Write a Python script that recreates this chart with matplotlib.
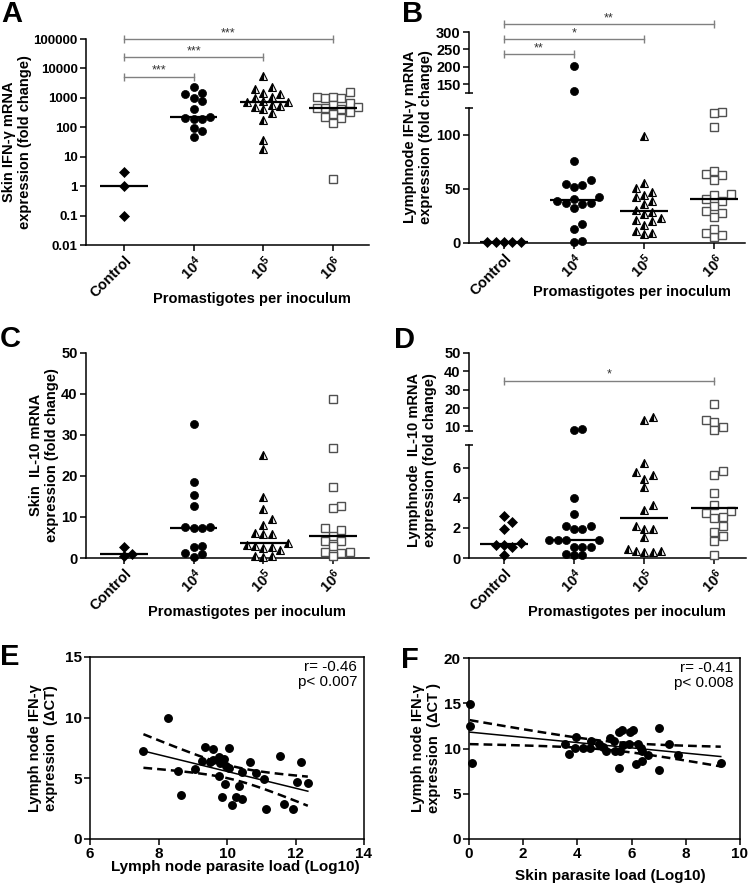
import numpy as np
import matplotlib
matplotlib.use('Agg')
import matplotlib.pyplot as plt

plt.rcParams['font.family'] = ['Liberation Sans', 'DejaVu Sans']
plt.rcParams['font.weight'] = 'bold'
plt.rcParams['mathtext.fontset'] = 'custom'
plt.rcParams['mathtext.rm'] = 'Liberation Sans:bold'
plt.rcParams['mathtext.bf'] = 'Liberation Sans:bold'
plt.rcParams['mathtext.it'] = 'Liberation Sans:bold'
plt.rcParams['axes.linewidth'] = 1.1

# ---------------- data ----------------
categories = ['Control', r'$\mathbf{10^{4}}$', r'$\mathbf{10^{5}}$', r'$\mathbf{10^{6}}$']

# A: Skin IFN-g (log scale)
a_control = [3.0, 1.0, 0.1]
a_1e4 = [2290, 1350, 1430, 965, 780, 430, 230, 195, 187, 205, 93, 75, 48]
a_1e5 = [5500, 1950, 2400, 1350, 1500, 1090, 965, 710, 540, 790, 740, 500, 575, 300, 410, 178, 37, 18]
a_1e6 = [1540, 1090, 965, 1090, 965, 650, 575, 480, 410, 460, 460, 340, 275, 230, 205, 138, 1.75]
a_sig = [(0, 3, 100000, '***'), (0, 2, 24500, '***'), (0, 1, 5150, '***')]

# B: Lymphnode IFN-g (broken axis)
b_control = [1.2, 1.1, 1.3, 1.0, 1.2]
b_1e4 = [202, 130, 76, 55, 58, 54, 51.5, 43, 41, 39, 37, 37, 36, 32, 17.6, 13, 1.2, 2]
b_1e5 = [99, 56, 51, 44, 43, 47, 39, 36, 30.5, 29, 27, 23, 20.6, 21, 17, 11, 8, 9.5]
b_1e6 = [121, 120, 107, 64, 67, 63, 58, 45, 44, 41, 39, 34.5, 30, 27.5, 24, 9, 5.3, 7.4, 12.7]
b_sig = [(0, 3, 322, '**'), (0, 2, 279, '*'), (0, 1, 236, '**')]

# C: Skin IL-10
c_control = [2.7, 0.4, 1.0]
c_1e4 = [32.7, 18.5, 15.3, 12.6, 7.6, 7.2, 7.2, 7.6, 2.9, 2.8, 1.1, 0.9, 0.3]
c_1e5 = [25, 14.8, 11.9, 9.4, 8, 6, 5.8, 5.9, 3.2, 2.8, 2.5, 2.9, 3.7, 2, 0.5, 0.3, 0.5]
c_1e6 = [38.7, 26.8, 17.2, 12.7, 12.1, 7.2, 6.8, 5.4, 4.1, 4.1, 2.9, 1.3, 1.5, 1.5, 0.6]

# D: Lymphnode IL-10 (broken axis)
d_control = [2.8, 2.4, 1.94, 0.83, 0.83, 1.0, 0.7, 0.22]
d_1e4 = [8.6, 8.2, 4.0, 2.9, 2.1, 1.9, 1.9, 2.1, 1.2, 1.2, 1.17, 1.2, 0.73, 0.73, 0.73, 0.28, 0.22, 0.22]
d_1e5 = [15.1, 13.7, 6.3, 5.5, 5.27, 5.7, 4.68, 3.5, 3.2, 1.92, 2.1, 1.92, 1.39, 0.6, 0.44, 0.37, 0.37, 0.48]
d_1e6 = [22.4, 13.3, 12.4, 9.7, 8.2, 5.8, 5.5, 4.3, 3.5, 3.0, 3.1, 2.7, 2.65, 2.1, 1.7, 1.43, 1.1, 0.22]
d_sig = [(0, 3, 34.9, '*')]

# E: LN parasite load vs LN IFN-g dCT
e_x = [8.27, 7.56, 9.36, 9.58, 10.07, 9.77, 9.9, 9.27, 9.5, 9.6, 9.8, 9.97, 10.07, 10.66, 11.56, 12.15,
       8.57, 9.07, 9.77, 10.45, 10.85, 11.07, 12.04, 12.36, 9.95, 10.34, 8.66, 9.86, 10.25, 10.45,
       10.16, 11.15, 11.65, 11.94]
e_y = [9.95, 7.28, 7.62, 7.43, 7.48, 6.79, 6.58, 6.44, 6.35, 6.52, 6.25, 6.02, 5.88, 6.33, 6.85, 6.35,
       5.61, 5.75, 5.22, 5.55, 5.47, 4.95, 4.73, 4.65, 4.51, 4.37, 3.6, 3.49, 3.44, 3.32,
       2.78, 2.5, 2.86, 2.5]
e_stats = 'r= -0.46\np< 0.007'

# F: skin parasite load vs LN IFN-g dCT
f_x = [0.03, 0.03, 0.11, 3.56, 3.7, 3.93, 3.9, 4.21, 4.5, 4.46, 4.8, 4.95, 5.04, 5.2, 5.35, 5.38, 5.54,
       5.63, 5.59, 5.69, 5.9, 5.94, 6.06, 6.22, 6.34, 6.4, 6.18, 6.39, 6.61, 5.53, 7.02, 7.02, 7.39, 7.7, 9.29]
f_y = [14.9, 12.44, 8.4, 10.5, 9.4, 11.23, 10.1, 10.1, 10.86, 10.05, 10.5, 10.16, 9.68, 11.16, 10.78, 9.75,
       11.82, 12.0, 9.68, 10.34, 10.5, 11.78, 12.08, 10.5, 10.05, 9.68, 8.32, 8.65, 9.31, 7.9, 12.26,
       7.66, 10.53, 9.24, 8.4]
f_stats = 'r= -0.41\np< 0.008'

# ---------------- layout ----------------
W, H = 750, 884
fig = plt.figure(figsize=(W / 100, H / 100), dpi=100)

def add_ax(x0, x1, y0, y1):
    return fig.add_axes([x0 / W, 1 - y1 / H, (x1 - x0) / W, (y1 - y0) / H])

TICK_FS = 10.5
LAB_FS = 10.5
SIG_COLOR = '#808080'

styles = [
    dict(marker='D', ms=4.6, mfc='black', mec='black', mew=0.5),
    dict(marker='o', ms=5.8, mfc='black', mec='black', mew=0.5),
    dict(marker='^', ms=6.2, mfc='black', mec='black', mew=0.8, fillstyle='left', markerfacecoloralt='#f0f0f0'),
    dict(marker='s', ms=5.6, mfc='white', mec='#505050', mew=1.0),
]

def style_axis(ax, box=False):
    if not box:
        ax.spines['top'].set_visible(False)
        ax.spines['right'].set_visible(False)
    ax.tick_params(direction='out', length=4, width=1.1, labelsize=TICK_FS, pad=2)
    for lab in ax.get_yticklabels() + ax.get_xticklabels():
        lab.set_fontweight('bold')

def swarm_offsets(ypix, d=8.3):
    order = np.argsort(ypix)
    placed = []
    off = np.zeros(len(ypix))
    for i in order:
        y = ypix[i]
        chosen = 0.0
        for k in [0, 1, -1, 2, -2, 3, -3, 4, -4, 5, -5, 6, -6, 7, -7]:
            ox = k * d
            if all((ox - px) ** 2 + (y - py) ** 2 >= (0.92 * d) ** 2 for px, py in placed):
                chosen = ox
                break
        placed.append((chosen, y))
        off[i] = chosen
    return off

def draw_groups(ax_lo, groups, ax_hi=None, brk=None):
    ppu = ax_lo.transData.transform((1, 0))[0] - ax_lo.transData.transform((0, 0))[0]
    for gi, vals in enumerate(groups):
        vals = np.asarray(vals, dtype=float)
        def which(v):
            return ax_hi if (ax_hi is not None and v > brk) else ax_lo
        ypix = np.array([which(v).transData.transform((0, v))[1] for v in vals])
        xs = gi + swarm_offsets(ypix) / ppu
        for xv, v in zip(xs, vals):
            which(v).plot([xv], [v], linestyle='none', clip_on=False, zorder=3, **styles[gi])
        med = np.median(vals)
        ax_lo.plot([gi - 0.34, gi + 0.34], [med, med], color='black', lw=1.6, zorder=4, solid_capstyle='butt')

def draw_sig(ax, sigs):
    for x0, x1, y, txt in sigs:
        ax.plot([x0, x1], [y, y], color=SIG_COLOR, lw=1.0, marker='|', ms=6, mew=1.0,
                clip_on=False, zorder=5)
        ax.annotate(txt, xy=((x0 + x1) / 2, y), xytext=(0, 0), textcoords='offset points',
                    ha='center', va='bottom', fontsize=9, color='#333333', fontweight='normal',
                    annotation_clip=False)

def cat_xaxis(ax, xlim):
    ax.set_xlim(*xlim)
    ax.set_xticks(range(4))
    ax.set_xticklabels(categories, rotation=45, ha='right', va='top', rotation_mode='anchor',
                       fontsize=11, fontweight='bold')

def break_mark(ax, x, y):
    ax.plot([x], [y], marker='_', ms=6, mew=1.1, color='black', clip_on=False, zorder=5)

# ---- A ----
axA = add_ax(86, 369, 39, 245)
axA.set_yscale('log')
axA.set_ylim(0.01, 100000)
axA.set_yticks([0.01, 0.1, 1, 10, 100, 1000, 10000, 100000])
axA.set_yticklabels(['0.01', '0.1', '1', '10', '100', '1000', '10000', '100000'])
axA.minorticks_off()
cat_xaxis(axA, (-0.545, 3.515))
style_axis(axA)
axA.tick_params(axis='y', labelsize=9.5)
draw_groups(axA, [a_control, a_1e4, a_1e5, a_1e6])
draw_sig(axA, a_sig)

# ---- B ----
axB = add_ax(469, 745, 108, 243)
axBu = add_ax(469, 745, 32, 93)
axB.set_ylim(0, 125)
axB.set_yticks([0, 50, 100])
axBu.set_ylim(125, 300)
axBu.set_yticks([150, 200, 250, 300])
cat_xaxis(axB, (-0.5, 3.44))
axBu.set_xlim(-0.5, 3.44)
axBu.set_xticks([])
axBu.spines['bottom'].set_visible(False)
style_axis(axB)
style_axis(axBu)
break_mark(axB, -0.5, 125)
break_mark(axBu, -0.5, 125)
draw_groups(axB, [b_control, b_1e4, b_1e5, b_1e6], axBu, 125)
draw_sig(axBu, b_sig)

# ---- C ----
axC = add_ax(86, 369, 353, 558)
axC.set_ylim(0, 50)
axC.set_yticks([0, 10, 20, 30, 40, 50])
cat_xaxis(axC, (-0.545, 3.515))
style_axis(axC)
draw_groups(axC, [c_control, c_1e4, c_1e5, c_1e6])

# ---- D ----
axD = add_ax(469, 746, 445, 558)
axDu = add_ax(469, 746, 353, 431)
axD.set_ylim(0, 7.5)
axD.set_yticks([0, 2, 4, 6])
axDu.set_ylim(7.5, 50)
axDu.set_yticks([10, 20, 30, 40, 50])
cat_xaxis(axD, (-0.5, 3.45))
axDu.set_xlim(-0.5, 3.45)
axDu.set_xticks([])
axDu.spines['bottom'].set_visible(False)
style_axis(axD)
style_axis(axDu)
break_mark(axD, -0.5, 7.5)
break_mark(axDu, -0.5, 7.5)
draw_groups(axD, [d_control, d_1e4, d_1e5, d_1e6], axDu, 7.5)
draw_sig(axDu, d_sig)

# ---- E / F ----
def fit_band(x, y, t=2.03):
    x = np.asarray(x, float); y = np.asarray(y, float)
    n = len(x)
    b, a = np.polyfit(x, y, 1)
    xx = np.linspace(x.min(), x.max(), 100)
    yy = a + b * xx
    res = y - (a + b * x)
    s = np.sqrt(np.sum(res ** 2) / (n - 2))
    sxx = np.sum((x - x.mean()) ** 2)
    se = s * np.sqrt(1 / n + (xx - x.mean()) ** 2 / sxx)
    return xx, yy, yy - t * se, yy + t * se

def scatter_panel(ax, x, y, stats):
    ax.plot(x, y, linestyle='none', marker='o', ms=5.4, color='black', clip_on=False, zorder=3)
    xx, yy, lo, hi = fit_band(x, y)
    ax.plot(xx, yy, color='black', lw=1.1, zorder=4)
    ax.plot(xx, lo, color='black', lw=1.8, ls=(0, (3.5, 2)), zorder=4)
    ax.plot(xx, hi, color='black', lw=1.8, ls=(0, (3.5, 2)), zorder=4)
    ax.text(0.975, 0.985, stats, transform=ax.transAxes, ha='right', va='top',
            fontsize=11, fontweight='normal', linespacing=1.15)

axE = add_ax(90, 364, 657, 839)
axE.set_xlim(6, 14); axE.set_xticks([6, 8, 10, 12, 14])
axE.set_ylim(0, 15); axE.set_yticks([0, 5, 10, 15])
style_axis(axE, box=True)
axE.tick_params(labelsize=11)
scatter_panel(axE, e_x, e_y, e_stats)

axF = add_ax(469, 740, 658, 839)
axF.set_xlim(0, 10); axF.set_xticks([0, 2, 4, 6, 8, 10])
axF.set_ylim(0, 20); axF.set_yticks([0, 5, 10, 15, 20])
style_axis(axF, box=True)
axF.tick_params(labelsize=11)
scatter_panel(axF, f_x, f_y, f_stats)

# ---- texts ----
def ftext(x, y, s, **kw):
    fig.text(x / W, 1 - y / H, s, **kw)

for letter, (x, y) in zip('ABCDEF', [(1, 22), (402, 22), (0, 347), (394, 348), (0, 665), (401, 668)]):
    ftext(x, y, letter, fontsize=21, fontweight='bold', va='baseline', ha='left')

ylabels = [
    ('Skin IFN-γ mRNA\nexpression (fold change)', 17, 142),
    ('Lymphnode IFN-γ mRNA\nexpression (fold change)', 418, 137),
    ('Skin  IL-10 mRNA\nexpression (fold change)', 44, 455),
    ('Lymphnode  IL-10 mRNA\nexpression (fold change)', 422, 460),
    ('Lymph node IFN-γ\nexpression  (ΔCT)', 43, 748),
    ('Lymph node IFN-γ\nexpression  (ΔCT )', 426, 748),
]
for s, x, y in ylabels:
    ftext(x, y, s, rotation=90, ha='center', va='center', multialignment='center',
          fontsize=LAB_FS, fontweight='bold', linespacing=1.1)

xlabels = [
    ('Promastigotes per inoculum', 252, 299, LAB_FS),
    ('Promastigotes per inoculum', 632, 292, LAB_FS),
    ('Promastigotes per inoculum', 247, 612, LAB_FS),
    ('Promastigotes per inoculum', 627, 612, LAB_FS),
    ('Lymph node parasite load (Log10)', 235, 867, 11),
    ('Skin parasite load (Log10)', 610, 876, 11),
]
for s, x, y, fs in xlabels:
    ftext(x, y, s, ha='center', va='center', fontsize=fs, fontweight='bold')

fig.savefig('out.png', dpi=100)
